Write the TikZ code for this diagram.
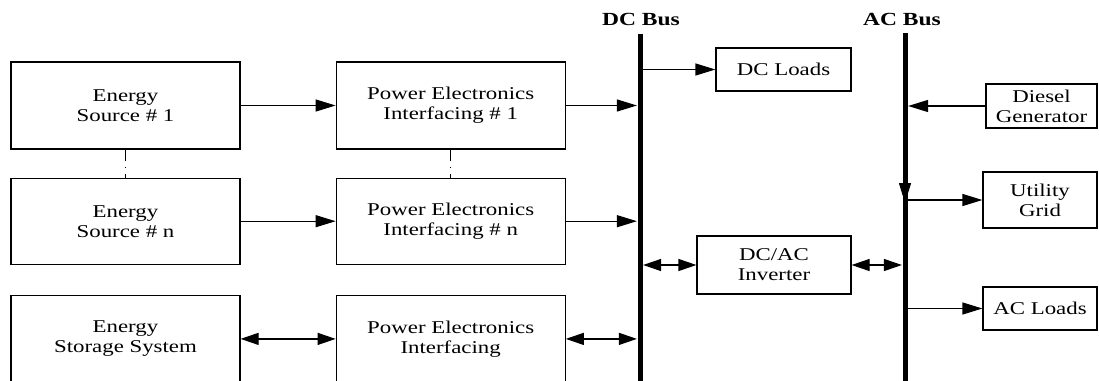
\documentclass[tikz,border=0pt]{standalone}
\usepackage{fontspec}
\setmainfont{Liberation Serif}[FakeStretch=1.27]
\usetikzlibrary{arrows.meta, positioning, calc}
\tikzset{
  every picture/.style={line width=1.2pt},
  box/.style={draw, align=center, inner sep=0pt, font=\fontsize{18}{20}\selectfont, minimum width=#1},
  box/.default=229pt,
  bus/.style={fill=black, inner sep=0pt, minimum width=5pt, minimum height=352pt, anchor=north},
  arrow/.style={-{Triangle[length=20pt, width=12pt]}},
  biarrow/.style={{Triangle[length=18pt, width=12pt]}-{Triangle[length=18pt, width=12pt]}},
  dots/.style={dash pattern=on 11pt off 6pt on 1.2pt off 6pt},
  title/.style={font=\fontsize{18.5}{20}\selectfont\bfseries, anchor=base, inner sep=0pt},
}

\begin{document}
\begin{tikzpicture}[x=1pt, y=-1pt]
  \clip (0,0) rectangle (1099,380);
  % sources and storage
  \node[box, minimum height=87pt] (es1) at (125.5,105.5) {Energy\\Source \# 1};
  \node[box, minimum height=86pt, below=28pt of es1] (esn) {Energy\\Source \# n};
  \node[box, minimum height=87pt, below=30pt of esn] (ess) {Energy\\Storage System};
  % interfacing stages
  \node[box, minimum height=87pt, right=95pt of es1] (pe1) {Power Electronics\\Interfacing \# 1};
  \node[box, minimum height=86pt, right=95pt of esn] (pen) {Power Electronics\\Interfacing \# n};
  \node[box, minimum height=87pt, right=95pt of ess] (pes) {Power Electronics\\Interfacing};
  % buses
  \node[bus] (dcbus) at (640,33) {};
  \node[bus] (acbus) at (905,32) {};
  \node[title] (dclabel) at (641,25) {DC Bus};
  \node[title] (aclabel) at (902,25) {AC Bus};
  % loads and sources on the buses
  \node[box=135pt, minimum height=43pt] (dcl) at (783.5,69.5) {DC Loads};
  \node[box=154pt, minimum height=58pt] (inv) at (774,265) {DC/AC\\Inverter};
  \node[box=111pt, minimum height=44pt] (dg) at (1041.5,106) {Diesel\\Generator};
  \node[box=114pt, minimum height=56pt] (ug) at (1040,200) {Utility\\Grid};
  \node[box=114pt, minimum height=43pt] (acl) at (1040,308.5) {AC Loads};
  % connectors
  \draw[arrow] (es1) -- (pe1);
  \draw[arrow] (esn) -- (pen);
  \draw[biarrow] (ess) -- (pes);
  \draw[dots] (es1) -- (esn);
  \draw[dots] (pe1) -- (pen);
  \draw[arrow] (pe1.east) -- (pe1.east -| dcbus.west);
  \draw[arrow] (pen.east) -- (pen.east -| dcbus.west);
  \draw[biarrow] (pes.east) -- (pes.east -| dcbus.west);
  \draw[arrow] (dcbus.east |- dcl.west) -- (dcl.west);
  \draw[biarrow] (dcbus.east |- inv.west) -- (inv.west);
  \draw[biarrow] (inv.east) -- (inv.east -| acbus.west);
  \draw[arrow] (dg.west) -- (dg.west -| acbus.east);
  \draw[arrow] (acbus.east |- ug.west) -- (ug.west);
  \draw[arrow] (acbus.east |- acl.west) -- (acl.west);
  \coordinate (acjoin) at (acbus.center |- ug.west);
  \draw[arrow] ($(acjoin)+(0,-17)$) -- ($(acjoin)+(0,3)$);
\end{tikzpicture}
\end{document}
